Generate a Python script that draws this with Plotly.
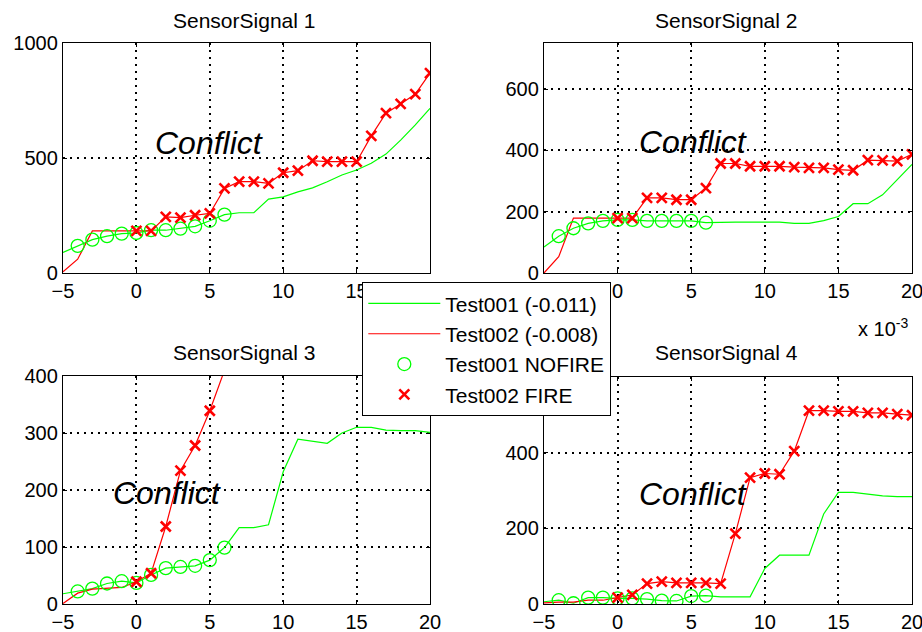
import plotly.graph_objects as go

# ---------------- data ----------------
x_vals = list(range(-5, 21))           # time axis (x 10^-3)
nofire_idx = list(range(1, 12))        # x = -4 .. 6  (Test001 NOFIRE markers)
fire_idx = list(range(5, 26))          # x = 0 .. 20  (Test002 FIRE markers)

titles = ["SensorSignal 1", "SensorSignal 2", "SensorSignal 3", "SensorSignal 4"]
legend_names = ["Test001 (-0.011)", "Test002 (-0.008)", "Test001 NOFIRE", "Test002 FIRE"]
annotation_text = "Conflict"

test001_s1 = [89, 118, 145, 160, 171, 174, 186, 186, 193, 203, 227, 254, 262, 262, 321, 331,
              353, 370, 397, 426, 448, 477, 517, 578, 644, 716]
test002_s1 = [5, 60, 183, 183, 183, 183, 183, 244, 241, 251, 259, 368, 397, 397, 390, 436,
              445, 488, 484, 484, 484, 596, 695, 735, 778, 869]

test001_s2 = [85, 120, 146, 162, 170, 173, 173, 170, 170, 170, 170, 164, 166, 166, 166, 166,
              166, 162, 162, 171, 184, 226, 226, 255, 304, 354]
test002_s2 = [0, 53, 179, 179, 179, 179, 179, 245, 245, 239, 239, 277, 357, 357, 348, 348,
              348, 345, 343, 343, 337, 335, 368, 367, 365, 387]

test001_s3 = [18, 22, 27, 36, 40, 37, 51, 63, 65, 67, 77, 99, 134, 134, 139, 232,
              289, 285, 282, 300, 310, 310, 305, 304, 304, 301]
test002_s3 = [1, 19, 26, 27, 29, 39, 54, 136, 234, 278, 339, 410, None, None, None, None,
              None, None, None, None, None, None, None, None, None, None]

test001_s4 = [6, 10, 2, 17, 17, 15, 15, 13, 9, 8, 21, 22, 19, 19, 19, 94,
              129, 129, 129, 238, 295, 295, 291, 286, 284, 284]
test002_s4 = [3, 5, 5, 10, 10, 17, 24, 54, 59, 56, 56, 56, 54, 186, 334, 345,
              343, 404, 511, 511, 509, 509, 505, 505, 502, 499]

test001 = [test001_s1, test001_s2, test001_s3, test001_s4]
test002 = [test002_s1, test002_s2, test002_s3, test002_s4]

y_ranges = [[0, 1000], [0, 750], [0, 400], [0, 600]]
y_ticks = [[0, 500, 1000], [0, 200, 400, 600], [0, 100, 200, 300, 400], [0, 200, 400, 600]]
x_ticks = [-5, 0, 5, 10, 15, 20]
conflict_pos = [(1.1, 565), (1.3, 426), (-1.75, 195), (1.3, 292)]

# ---------------- figure ----------------
W, H = 922, 632
FONT = "Liberation Sans, Arial, Helvetica, sans-serif"
GREEN = "#00ff00"
RED = "#ff0000"

# panel boxes in pixels: (left, right, top, bottom)
boxes = [(63, 430, 43, 273), (544, 912, 43, 273), (63, 430, 376, 604), (544, 912, 377, 604)]
title_pos = [(244, 21), (726, 21), (244, 352), (726, 352)]

fig = go.Figure()
layout = dict(
    width=W, height=H, margin=dict(l=0, r=0, t=0, b=0, autoexpand=False),
    paper_bgcolor="white", plot_bgcolor="white",
    font=dict(family=FONT, size=20, color="black"),
    showlegend=True,
    legend=dict(x=362 / W, y=1 - 282 / H, xanchor="left", yanchor="top",
                bgcolor="white", bordercolor="black", borderwidth=1.3,
                font=dict(size=21, family=FONT, color="black"),
                tracegroupgap=0, itemwidth=72,
                entrywidth=250, entrywidthmode="pixels"),
)
annotations = []

for i in range(4):
    xa = "x" if i == 0 else f"x{i+1}"
    ya = "y" if i == 0 else f"y{i+1}"
    xkey = "xaxis" if i == 0 else f"xaxis{i+1}"
    ykey = "yaxis" if i == 0 else f"yaxis{i+1}"
    l, r, t, b = boxes[i]
    common = dict(showline=True, linecolor="black", linewidth=1.3, mirror="ticks",
                  ticks="inside", ticklen=4, tickcolor="black", automargin=False,
                  ticklabeloverflow="allow",
                  showgrid=True, gridcolor="black", griddash="2px,5px", gridwidth=1.5,
                  zeroline=False, tickfont=dict(size=20, family=FONT, color="black"))
    layout[xkey] = dict(domain=[l / W, r / W], anchor=ya, range=[-5, 20],
                        tickvals=x_ticks, **common)
    layout[ykey] = dict(domain=[1 - b / H, 1 - t / H], anchor=xa, range=y_ranges[i],
                        tickvals=y_ticks[i], **common)

    g = test001[i]
    rd = test002[i]
    show = (i == 0)
    fig.add_trace(go.Scatter(x=x_vals, y=g, mode="lines", line=dict(color=GREEN, width=1.2),
                             name=legend_names[0], legendgroup="a", showlegend=show,
                             xaxis=xa, yaxis=ya))
    fig.add_trace(go.Scatter(x=x_vals, y=rd, mode="lines", line=dict(color=RED, width=1.2),
                             name=legend_names[1], legendgroup="b", showlegend=show,
                             xaxis=xa, yaxis=ya))
    fig.add_trace(go.Scatter(x=[x_vals[k] for k in nofire_idx], y=[g[k] for k in nofire_idx],
                             mode="markers",
                             marker=dict(symbol="circle-open", size=13, color=GREEN,
                                         line=dict(width=1.3, color=GREEN)),
                             name=legend_names[2], legendgroup="c", showlegend=show,
                             xaxis=xa, yaxis=ya))
    fx = [x_vals[k] for k in fire_idx if rd[k] is not None]
    fy = [rd[k] for k in fire_idx if rd[k] is not None]
    fig.add_trace(go.Scatter(x=fx, y=fy, mode="markers",
                             marker=dict(symbol="x-thin", size=10, color=RED,
                                         line=dict(width=2.6, color=RED)),
                             name=legend_names[3], legendgroup="d", showlegend=show,
                             xaxis=xa, yaxis=ya))

    cx, cy = conflict_pos[i]
    annotations.append(dict(x=cx, y=cy, xref=xa, yref=ya, text=f"<i>{annotation_text}</i>",
                            showarrow=False, xanchor="left", yanchor="middle",
                            font=dict(size=32, family=FONT, color="black")))
    tx, ty = title_pos[i]
    annotations.append(dict(x=tx / W, y=1 - ty / H, xref="paper", yref="paper",
                            text=titles[i], showarrow=False, xanchor="center",
                            yanchor="middle", font=dict(size=21, family=FONT, color="black")))

annotations.append(dict(x=910 / W, y=1 - 327 / H, xref="paper", yref="paper",
                        text="x 10<sup>-3</sup>", showarrow=False, xanchor="right",
                        yanchor="middle", font=dict(size=20, family=FONT, color="black")))
layout["annotations"] = annotations
fig.update_layout(**layout)
fig.write_html("out.html")
